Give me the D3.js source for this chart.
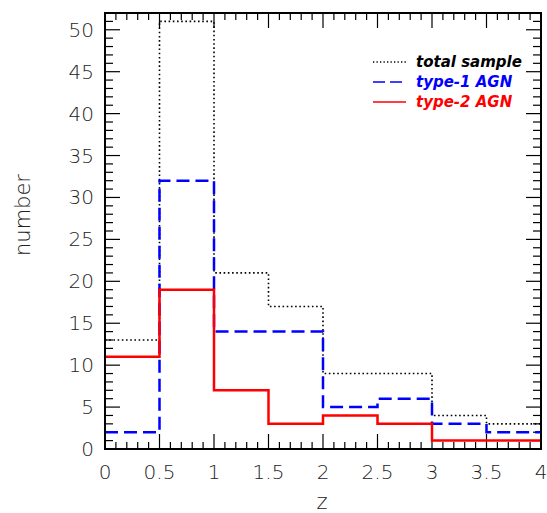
<!DOCTYPE html>
<html><head><meta charset="utf-8">
<script src="https://cdn.jsdelivr.net/npm/d3@7"></script>
<style>body{margin:0;background:#fff}svg{display:block}</style>
</head><body>
<script>
const binEdges = [0, 0.5, 1, 1.5, 2, 2.5, 3, 3.5, 4];
const totalSample = [13, 51, 21, 17, 9, 9, 4, 3];
const type1AGN = [2, 32, 14, 14, 5, 6, 3, 2];
const type2AGN = [11, 19, 7, 3, 4, 3, 1, 1];
const xTickLabels = ["0","0.5","1","1.5","2","2.5","3","3.5","4"];
const yTickValues = [0,5,10,15,20,25,30,35,40,45,50];
const legendLabels = ["total sample","type-1 AGN","type-2 AGN"];

const W = 547, H = 513;
const m = {left:105, right:541, top:13, bottom:449};
const svg = d3.select("body").append("svg").attr("width",W).attr("height",H);
const x = d3.scaleLinear().domain([0,4]).range([m.left,m.right]);
const y = d3.scaleLinear().domain([0,52]).range([m.bottom,m.top]);

const font = "'DejaVu Sans', sans-serif";

// ticks
const g = svg.append("g").attr("stroke","#000").attr("stroke-width",1.2);
const xMinor = d3.range(0,41).map(i=>i/10);
xMinor.forEach(v=>{
  const major = Math.abs(v*2-Math.round(v*2))<1e-6;
  const len = major?15:7;
  g.append("line").attr("x1",x(v)).attr("x2",x(v)).attr("y1",m.bottom).attr("y2",m.bottom-len);
  g.append("line").attr("x1",x(v)).attr("x2",x(v)).attr("y1",m.top).attr("y2",m.top+len);
});
d3.range(0,53).forEach(v=>{
  const major = v%5===0;
  const len = major?15:8;
  g.append("line").attr("x1",m.left).attr("x2",m.left+len).attr("y1",y(v)).attr("y2",y(v));
  g.append("line").attr("x1",m.right).attr("x2",m.right-len).attr("y1",y(v)).attr("y2",y(v));
});

// tick labels
binEdges.forEach((v,i)=>{
  svg.append("text").attr("x",x(v)).attr("y",479).attr("text-anchor","middle")
    .attr("font-family",font).attr("font-weight",300).attr("font-size",20).attr("fill","#222").text(xTickLabels[i]);
});
yTickValues.forEach(v=>{
  svg.append("text").attr("x",94).attr("y",y(v)+7).attr("text-anchor","end")
    .attr("font-family",font).attr("font-weight",300).attr("font-size",20).attr("fill","#222").text(v);
});
svg.append("text").attr("transform","translate(30,215) rotate(-90)").attr("text-anchor","middle")
  .attr("font-family",font).attr("font-weight",300).attr("font-size",21).attr("fill","#222").text("number");
svg.append("text").attr("x",322).attr("y",509).attr("text-anchor","middle")
  .attr("font-family",font).attr("font-weight",300).attr("font-size",21).attr("fill","#222").text("z");

// step histograms
function stepPts(vals){
  const pts=[];
  vals.forEach((v,i)=>{pts.push([binEdges[i],v]);pts.push([binEdges[i+1],v]);});
  return pts;
}
const line = d3.line().x(d=>x(d[0])).y(d=>y(d[1]));
const series = [
  {vals:totalSample, color:"#000", width:1.6, dash:"1.6,2.6"},
  {vals:type1AGN, color:"#0000ff", width:2.5, dash:"13,6"},
  {vals:type2AGN, color:"#ff0000", width:2.5, dash:null}
];
series.forEach(s=>{
  svg.append("path").attr("d",line(stepPts(s.vals))).attr("fill","none")
    .attr("stroke",s.color).attr("stroke-width",s.width)
    .attr("stroke-dasharray",s.dash);
});

// frame
svg.append("rect").attr("x",m.left).attr("y",m.top).attr("width",m.right-m.left).attr("height",m.bottom-m.top)
  .attr("fill","none").attr("stroke","#000").attr("stroke-width",2);

// legend
const legColors = ["#000","#0000ff","#ff0000"];
const legY = [62, 82, 102];
series.forEach((s,i)=>{
  svg.append("line").attr("x1",373).attr("x2",406).attr("y1",legY[i]).attr("y2",legY[i])
    .attr("stroke",s.color).attr("stroke-width",i==0?1.3:1.5)
    .attr("stroke-dasharray",i==0?"1.3,2.2":(i==1?"12,5":null));
  svg.append("text").attr("x",416).attr("y",legY[i]+5).attr("font-family",font)
    .attr("font-size",15).attr("font-style","italic").attr("font-weight","bold")
    .attr("fill",legColors[i]).text(legendLabels[i]);
});
</script>
</body></html>
